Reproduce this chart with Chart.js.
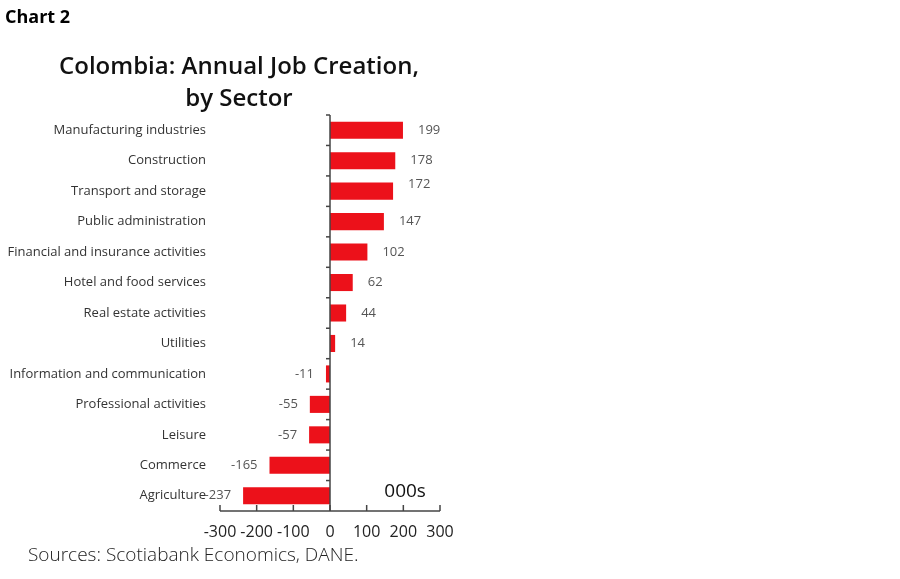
<!DOCTYPE html>
<html>
<head>
<meta charset="utf-8">
<script src="https://cdn.jsdelivr.net/npm/chart.js@4.4.1/dist/chart.umd.min.js"></script>
<style>
  html, body { margin: 0; padding: 0; background: #fff; }
  #wrap { position: relative; width: 900px; height: 579px; overflow: hidden; }
  #wrap canvas { position: absolute; left: 0; top: 0; }
  .txt { position: absolute; white-space: nowrap; font-family: "Open Sans", sans-serif; }
  #chartno { left: 5px; top: 4px; font-size: 18px; font-weight: 700; color: #000; }
  #title { left: 0; width: 478px; top: 49px; text-align: center; font-size: 24px; font-weight: 600; color: #111; line-height: 32px; }
  #src { left: 28px; top: 541px; font-size: 19px; color: #222; font-weight: 300; }
</style>
</head>
<body>
<div id="wrap">
  <canvas id="c" width="900" height="579"></canvas>
  <div class="txt" id="chartno">Chart 2</div>
  <div class="txt" id="title">Colombia: Annual Job Creation,<br>by Sector</div>
  <div class="txt" id="src">Sources: Scotiabank Economics, DANE.</div>
</div>
<script>
const categories = [
  "Manufacturing industries",
  "Construction",
  "Transport and storage",
  "Public administration",
  "Financial and insurance activities",
  "Hotel and food services",
  "Real estate activities",
  "Utilities",
  "Information and communication",
  "Professional activities",
  "Leisure",
  "Commerce",
  "Agriculture"
];
const jobCreation = [199, 178, 172, 147, 102, 62, 44, 14, -11, -55, -57, -165, -237];
const xTicks = [-300, -200, -100, 0, 100, 200, 300];
const unitLabel = "000s";

const AXIS = "#444";
const FONT = "'Open Sans', sans-serif";

const axisPlugin = {
  id: 'axisPlugin',
  afterDatasetsDraw(chart) {
    const ctx = chart.ctx;
    const xs = chart.scales.x, ys = chart.scales.y;
    const ca = chart.chartArea;
    const x0 = xs.getPixelForValue(0);
    ctx.save();
    ctx.strokeStyle = AXIS;
    ctx.lineWidth = 1.5;
    ctx.beginPath();
    ctx.moveTo(x0, ca.top);
    ctx.lineTo(x0, ca.bottom);
    ctx.stroke();
    for (let i = 0; i < categories.length; i++) {
      const y = ys.getPixelForValue(i - 0.5);
      ctx.beginPath();
      ctx.moveTo(x0 - 4, y);
      ctx.lineTo(x0, y);
      ctx.stroke();
    }
    ctx.beginPath();
    ctx.moveTo(xs.getPixelForValue(xTicks[0]), ca.bottom);
    ctx.lineTo(xs.getPixelForValue(xTicks[xTicks.length - 1]), ca.bottom);
    ctx.stroke();
    xTicks.forEach(v => {
      const x = xs.getPixelForValue(v);
      ctx.beginPath();
      ctx.moveTo(x, ca.bottom);
      ctx.lineTo(x, ca.bottom - 6);
      ctx.stroke();
    });
    const meta = chart.getDatasetMeta(0);
    ctx.font = "13px " + FONT;
    ctx.fillStyle = "#555";
    ctx.textBaseline = "middle";
    meta.data.forEach((bar, i) => {
      const v = jobCreation[i];
      const dy = (i === 2) ? -7 : 0;
      if (v >= 0) {
        ctx.textAlign = "left";
        ctx.fillText(String(v), bar.x + 15, bar.y + dy);
      } else {
        ctx.textAlign = "right";
        ctx.fillText(String(v), bar.x - 12, bar.y + dy);
      }
    });
    ctx.font = "19px " + FONT;
    ctx.fillStyle = "#111";
    ctx.textAlign = "left";
    ctx.fillText(unitLabel, xs.getPixelForValue(148), ys.getPixelForValue(categories.length - 1) - 4);
    ctx.restore();
  }
};

new Chart(document.getElementById('c'), {
  type: 'bar',
  data: {
    labels: categories,
    datasets: [{
      data: jobCreation,
      backgroundColor: '#EC111A',
      borderWidth: 0,
      barPercentage: 0.56,
      categoryPercentage: 1.0
    }]
  },
  options: {
    indexAxis: 'y',
    responsive: false,
    animation: false,
    devicePixelRatio: 1,
    layout: { padding: { left: 0, right: 460, top: 115, bottom: 0 } },
    plugins: { legend: { display: false }, tooltip: { enabled: false }, title: { display: false } },
    scales: {
      x: {
        type: 'linear',
        min: -300, max: 300,
        afterBuildTicks(scale) { scale.ticks = xTicks.map(v => ({ value: v })); },
        afterFit(scale) { scale.height = 68; },
        grid: { display: false, drawTicks: false },
        border: { display: false },
        ticks: { padding: 12, color: '#222', font: { family: FONT, size: 16 }, maxRotation: 0, autoSkip: false }
      },
      y: {
        afterFit(scale) { scale.width = 220; },
        grid: { display: false, drawTicks: false },
        border: { display: false },
        ticks: { padding: 14, color: '#333', font: { family: FONT, size: 13 }, autoSkip: false }
      }
    }
  },
  plugins: [axisPlugin]
});
</script>
</body>
</html>
